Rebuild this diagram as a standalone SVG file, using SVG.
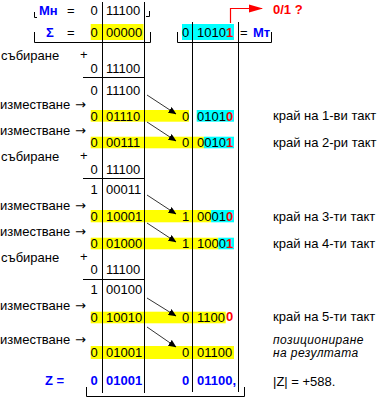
<svg xmlns="http://www.w3.org/2000/svg" width="388" height="399" viewBox="0 0 388 399">
<style>
text{font-family:"Liberation Sans",Arial,sans-serif;font-size:13px;fill:#000}
.b{font-weight:bold;fill:#0000ff}
.r{font-weight:bold;fill:#ff0000}
.lbl{font-size:13px}
.it{font-style:italic;font-size:12px;letter-spacing:0.4px}
.arw{font-family:"DejaVu Sans",sans-serif;font-size:13px}
.ln{stroke:#000;stroke-width:1;fill:none}
.y{fill:#ffff00}
.c{fill:#00ffff}
.ar{stroke:#000;stroke-width:0.8;fill:none;marker-end:url(#ah)}
</style>
<defs>
<marker id="ah" markerWidth="8" markerHeight="7" refX="7.5" refY="3.5" orient="auto" markerUnits="userSpaceOnUse">
<path d="M0,0 L8,3.5 L0,7 Z" fill="#000"/>
</marker>
<marker id="rh" markerWidth="14" markerHeight="10" refX="13" refY="5" orient="auto" markerUnits="userSpaceOnUse">
<path d="M0,1 L14,5 L0,9 Z" fill="#ff0000"/>
</marker>
</defs>
<g id="highlights">
<rect class="y" x="90.7" y="24" width="52.8" height="16"/>
<rect class="c" x="182" y="24" width="52" height="16"/>
<rect class="y" x="90.7" y="110" width="98.3" height="11.7"/>
<rect class="c" x="196.7" y="110" width="37.3" height="11.7"/>
<rect class="y" x="90.7" y="136.7" width="113.2" height="11.6"/>
<rect class="c" x="203.9" y="136.7" width="30.1" height="11.6"/>
<rect class="y" x="90.7" y="210" width="120.4" height="12.3"/>
<rect class="c" x="211.1" y="210" width="22.9" height="12.3"/>
<rect class="y" x="90.7" y="237.7" width="127.6" height="11.6"/>
<rect class="c" x="218.3" y="237.7" width="15.7" height="11.6"/>
<rect class="y" x="90.7" y="311.7" width="135" height="11.6"/>
<rect class="y" x="90.7" y="346" width="143.3" height="13"/>
</g>
<g id="grid">
<line class="ln" x1="102.5" y1="2" x2="102.5" y2="393"/>
<line class="ln" x1="144.5" y1="2" x2="144.5" y2="393"/>
<line class="ln" x1="192.5" y1="22" x2="192.5" y2="392"/>
<line class="ln" x1="238.5" y1="22" x2="238.5" y2="392"/>
<line class="ln" x1="83" y1="77.5" x2="144.5" y2="77.5"/>
<line class="ln" x1="83" y1="178.5" x2="144.5" y2="178.5"/>
<line class="ln" x1="83" y1="279.5" x2="144.5" y2="279.5"/>
<path class="ln" d="M34.5,12 V17.5 H37"/>
<path class="ln" d="M146,16.5 H149.5 V11"/>
<path class="ln" d="M34.5,32 V42.5 H150.5 V32"/>
<path class="ln" d="M177.5,32 V42.5 H271.5 V32"/>
<path class="ln" d="M86.5,387 V396.5 H244.5 V387"/>
</g>
<g id="header">
<text class="b" x="39" y="15">Мн</text>
<text x="67" y="15">=</text>
<text x="90.5" y="15">0</text>
<text x="106" y="15">11100</text>
<text class="b" x="46" y="37">Σ</text>
<text x="67" y="37">=</text>
<text x="90.5" y="37">0</text>
<text x="106" y="37">00000</text>
<text x="182" y="37">0</text>
<text x="197" y="37">1010<tspan class="r">1</tspan></text>
<text x="240" y="37">=</text>
<text class="b" x="253" y="37">Мт</text>
<text class="r" x="273" y="14">0/1 ?</text>
<path d="M230.5,23 V8.5 H262" stroke="#ff0000" stroke-width="1.2" fill="none" marker-end="url(#rh)"/>
</g>
<g id="left-labels">
<text x="1" y="60">събиране</text><text x="80" y="59">+</text>
<text x="0" y="108.5">изместване</text><text class="arw" x="75" y="108.5">→</text>
<text x="0" y="135">изместване</text><text class="arw" x="75" y="135">→</text>
<text x="1" y="160.5">събиране</text><text x="80" y="159.5">+</text>
<text x="0" y="209.5">изместване</text><text class="arw" x="75" y="209.5">→</text>
<text x="0" y="236">изместване</text><text class="arw" x="75" y="236">→</text>
<text x="1" y="261.5">събиране</text><text x="80" y="260.5">+</text>
<text x="0" y="310">изместване</text><text class="arw" x="75" y="310">→</text>
<text x="0" y="344">изместване</text><text class="arw" x="75" y="344">→</text>
<text class="b" x="45" y="385">Z =</text>
</g>
<g id="left-digits">
<text x="90.5" y="73.3">0</text><text x="106" y="73.3">11100</text>
<text x="90.5" y="95">0</text><text x="106" y="95">11100</text>
<text x="90.5" y="120.5">0</text><text x="106" y="120.5">01110</text>
<text x="90.5" y="147">0</text><text x="106" y="147">00111</text>
<text x="90.5" y="173.5">0</text><text x="106" y="173.5">11100</text>
<text x="90.5" y="193.5">1</text><text x="106" y="193.5">00011</text>
<text x="90.5" y="220.8">0</text><text x="106" y="220.8">10001</text>
<text x="90.5" y="248">0</text><text x="106" y="248">01000</text>
<text x="90.5" y="274">0</text><text x="106" y="274">11100</text>
<text x="90.5" y="294">1</text><text x="106" y="294">00100</text>
<text x="90.5" y="322">0</text><text x="106" y="322">10010</text>
<text x="90.5" y="357">0</text><text x="106" y="357">01001</text>
<text class="b" x="90.5" y="385">0</text><text class="b" x="106" y="385">01001</text>
</g>
<g id="right-digits">
<text x="182" y="120.5">0</text><text x="197" y="120.5">0101<tspan class="r">0</tspan></text>
<text x="182" y="147">0</text><text x="197" y="147">0010<tspan class="r">1</tspan></text>
<text x="182" y="220.8">1</text><text x="197" y="220.8">0001<tspan class="r">0</tspan></text>
<text x="182" y="248">1</text><text x="197" y="248">1000<tspan class="r">1</tspan></text>
<text x="182" y="322">0</text><text x="197" y="322">1100</text><text class="r" x="226" y="321">0</text>
<text x="182" y="357">0</text><text x="197" y="357">01100</text>
<text class="b" x="182" y="385">0</text><text class="b" x="197" y="385">01100,</text>
</g>
<g id="right-labels">
<text class="lbl" x="273" y="120">край на 1-ви такт</text>
<text class="lbl" x="273" y="147">край на 2-ри такт</text>
<text class="lbl" x="273" y="221">край на 3-ти такт</text>
<text class="lbl" x="273" y="248">край на 4-ти такт</text>
<text class="lbl" x="273" y="321">край на 5-ти такт</text>
<text class="it" x="273" y="343.5">позициониране</text>
<text class="it" x="273" y="356.5">на резултата</text>
<text x="273" y="386">|Z| = +588.</text>
</g>
<g id="connectors">
<line class="ar" x1="147" y1="95" x2="176" y2="114"/>
<line class="ar" x1="147" y1="122" x2="176" y2="141"/>
<line class="ar" x1="147" y1="195" x2="176" y2="214"/>
<line class="ar" x1="147" y1="223" x2="176" y2="242"/>
<line class="ar" x1="147" y1="298" x2="176" y2="316"/>
<line class="ar" x1="147" y1="327" x2="176" y2="347"/>
</g>
</svg>
